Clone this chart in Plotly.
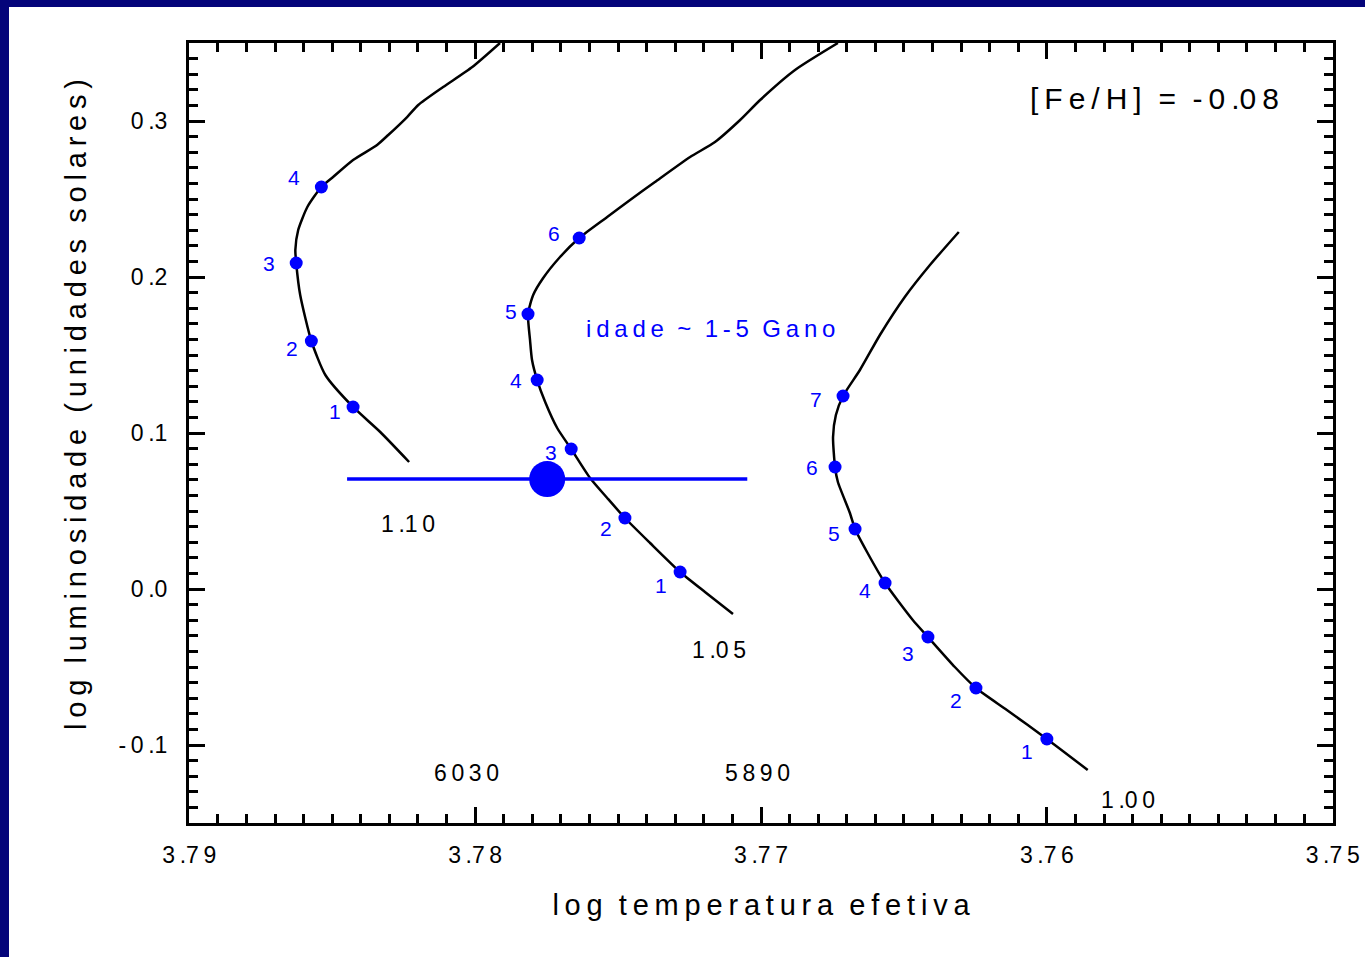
import math
import plotly.graph_objects as go

# Evolutionary tracks (log Teff, log L/Lsun) for three masses, [Fe/H] = -0.08
track_110_logt = [3.77913, 3.78010, 3.78112, 3.78199, 3.78238, 3.78304, 3.78343, 3.78427, 3.78497, 3.78538,
                  3.78587, 3.78619, 3.78629, 3.78626, 3.78612, 3.78573, 3.78524, 3.78427, 3.78332, 3.78231]
track_110_logl = [0.35000, 0.33462, 0.32179, 0.31026, 0.30256, 0.29103, 0.28462, 0.27500, 0.26410, 0.25769,
                  0.24487, 0.23013, 0.21731, 0.20897, 0.18846, 0.15897, 0.13718, 0.11667, 0.10064, 0.08141]

track_105_logt = [3.76731, 3.76881, 3.77003, 3.77073, 3.77161, 3.77248, 3.77371, 3.77458, 3.77538, 3.77636,
                  3.77703, 3.77762, 3.77797, 3.77815, 3.77808, 3.77801, 3.77783, 3.77755, 3.77713, 3.77664,
                  3.77598, 3.77538, 3.77476, 3.77388, 3.77283, 3.77196, 3.77098]
track_105_logl = [0.35000, 0.33269, 0.31346, 0.30064, 0.28654, 0.27692, 0.26090, 0.24936, 0.23846, 0.22500,
                  0.21282, 0.19936, 0.18846, 0.17628, 0.15962, 0.14679, 0.13397, 0.11987, 0.10321, 0.08974,
                  0.07115, 0.05833, 0.04551, 0.02949, 0.01090, -0.00192, -0.01603]

track_100_logt = [3.76308, 3.76409, 3.76497, 3.76584, 3.76654, 3.76713, 3.76738, 3.76748, 3.76741, 3.76731,
                  3.76689, 3.76671, 3.76629, 3.76566, 3.76469, 3.76416, 3.76322, 3.76248, 3.76140, 3.76000,
                  3.75857]
track_100_logl = [0.22885, 0.20769, 0.18718, 0.16282, 0.14038, 0.12372, 0.11154, 0.09744, 0.07821, 0.06859,
                  0.04872, 0.03846, 0.02372, 0.00385, -0.01987, -0.03077, -0.05000, -0.06346, -0.07756, -0.09615,
                  -0.11603]

# Age markers (Gyr) along each track
ages_110 = ["1", "2", "3", "4"]
ages_110_logt = [3.78427, 3.78573, 3.78626, 3.78538]
ages_110_logl = [0.11667, 0.15897, 0.20897, 0.25769]

ages_105 = ["1", "2", "3", "4", "5", "6"]
ages_105_logt = [3.77283, 3.77476, 3.77664, 3.77783, 3.77815, 3.77636]
ages_105_logl = [0.01090, 0.04551, 0.08974, 0.13397, 0.17628, 0.22500]

ages_100 = ["1", "2", "3", "4", "5", "6", "7"]
ages_100_logt = [3.76000, 3.76248, 3.76416, 3.76566, 3.76671, 3.76741, 3.76713]
ages_100_logl = [-0.09615, -0.06346, -0.03077, 0.00385, 0.03846, 0.07821, 0.12372]

# Observed star with its temperature uncertainty
star_logt = [3.77748]
star_logl = [0.0705]
star_logt_err = [0.007]

# Reference temperatures (K) marked along the bottom
ref_temps = [6030, 5890]

x_ticks = [3.79, 3.78, 3.77, 3.76, 3.75]
y_ticks = [-0.1, 0.0, 0.1, 0.2, 0.3]

FONT = "Liberation Sans, Arial, sans-serif"
BLUE = "#0000ff"
TS = "\u2009"


def spaced(s):
    # thin gaps between glyphs; a decimal point sticks to the following digit
    out = ""
    for i, ch in enumerate(s):
        out += ch
        if i < len(s) - 1 and ch != ".":
            out += TS
    return out


def spaced_words(s):
    return "  ".join(TS.join(w) for w in s.split(" "))


fig = go.Figure()

tracks = [
    ("1.10", track_110_logt, track_110_logl, ages_110, ages_110_logt, ages_110_logl),
    ("1.05", track_105_logt, track_105_logl, ages_105, ages_105_logt, ages_105_logl),
    ("1.00", track_100_logt, track_100_logl, ages_100, ages_100_logt, ages_100_logl),
]

for name, tx, ty, ag, ax, ay in tracks:
    fig.add_trace(go.Scatter(x=tx, y=ty, mode="lines",
                             line=dict(color="black", width=2.5, shape="spline", smoothing=0.6),
                             hoverinfo="skip", showlegend=False, name=name))
    fig.add_trace(go.Scatter(x=ax, y=ay, mode="markers", marker=dict(color=BLUE, size=13),
                             text=ag, showlegend=False, name=name + " idades"))

fig.add_trace(go.Scatter(
    x=star_logt, y=star_logl, mode="markers",
    marker=dict(color=BLUE, size=36),
    error_x=dict(type="data", array=star_logt_err, color=BLUE, thickness=3.5, width=0),
    showlegend=False, name="estrela"))

# Age label offsets in pixels (dx, dy) relative to each marker
label_offsets = {
    "1.10": [(-18, -5), (-19, -7), (-27, 0), (-27, 10)],
    "1.05": [(-19, -13), (-19, -10), (-20, -3), (-21, 0), (-17, 3), (-25, 5)],
    "1.00": [(-20, -13), (-20, -12), (-20, -16), (-20, -8), (-21, -4), (-23, -1), (-27, -3)],
}

annotations = []
for name, tx, ty, ag, ax, ay in tracks:
    for lab, x, y, (dx, dy) in zip(ag, ax, ay, label_offsets[name]):
        annotations.append(dict(x=x, y=y, text=lab, showarrow=False, xshift=dx, yshift=dy,
                                font=dict(family=FONT, size=21, color=BLUE)))

# Mass labels near the track ends
mass_pos = {"1.10": (3.78234, 0.0417), "1.05": (3.77147, -0.0391), "1.00": (3.75717, -0.1353)}
for name, (x, y) in mass_pos.items():
    annotations.append(dict(x=x, y=y, text=spaced(name), showarrow=False,
                            font=dict(family=FONT, size=23, color="black")))

for t in ref_temps:
    annotations.append(dict(x=math.log10(t), y=-0.118, text=spaced(str(t)), showarrow=False,
                            font=dict(family=FONT, size=23, color="black")))

annotations.append(dict(x=3.75622, y=0.3147,
                        text=TS.join("[Fe/H]") + "  =  " + spaced("-0.08"),
                        showarrow=False, font=dict(family=FONT, size=30, color="black")))
annotations.append(dict(x=3.77178, y=0.1673, text=spaced_words("idade ~ 1-5 Gano"),
                        showarrow=False, font=dict(family=FONT, size=24, color=BLUE)))

# Vertical axis title, placed a little above the middle of the axis
annotations.append(dict(xref="paper", yref="paper", x=(76 - 189) / 1144, y=(823 - 405) / 780,
                        xanchor="center", yanchor="middle",
                        text=spaced_words("log luminosidade (unidades solares)"), textangle=-90,
                        showarrow=False, font=dict(family=FONT, size=29, color="black")))

axis_common = dict(
    showline=True, linecolor="black", linewidth=3, mirror="allticks",
    ticks="inside", ticklen=16, tickwidth=2.5, tickcolor="black",
    showgrid=False, zeroline=False,
    tickfont=dict(family=FONT, size=23, color="black"),
)

fig.update_xaxes(
    range=[3.79001, 3.74999], tickvals=x_ticks, ticktext=[spaced(f"{v:.2f}") for v in x_ticks],
    minor=dict(dtick=0.001, tick0=3.75, ticks="inside", ticklen=9, tickwidth=2.5, tickcolor="black"),
    title=dict(text=spaced_words("log temperatura efetiva"),
               font=dict(family=FONT, size=29, color="black"), standoff=29),
    ticklabelstandoff=9,
    **axis_common,
)
fig.update_yaxes(
    range=[-0.15, 0.35], tickvals=y_ticks, ticktext=[spaced(f"{v:.1f}") for v in y_ticks],
    minor=dict(dtick=0.01, tick0=0, ticks="inside", ticklen=9, tickwidth=2.5, tickcolor="black"),
    ticklabelstandoff=14,
    **axis_common,
)

fig.update_layout(
    width=1365, height=957,
    margin=dict(l=189, r=32, t=43, b=134, autoexpand=False),
    paper_bgcolor="#04047a",
    plot_bgcolor="white",
    annotations=annotations,
    # white slide panel behind the chart, leaving a navy band at the top and left
    shapes=[dict(type="rect", xref="paper", yref="paper",
                 x0=-(189 - 9) / 1144, x1=1.5, y0=-1.0, y1=1 + (43 - 7) / 780,
                 fillcolor="white", line=dict(width=0), layer="below")],
)

fig.write_html("out.html")
